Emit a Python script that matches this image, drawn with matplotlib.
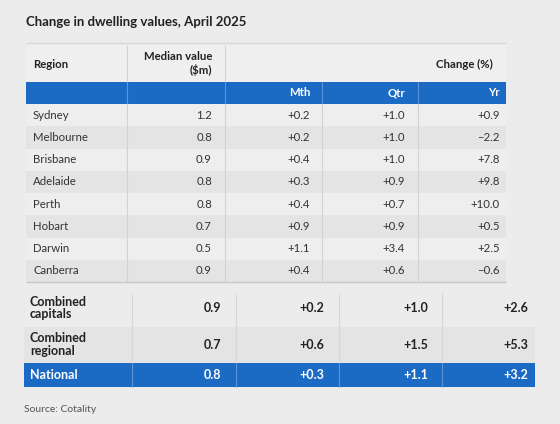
"""Table of dwelling value changes by capital city, April 2025."""

import matplotlib

matplotlib.use("Agg")
import matplotlib.pyplot as plt  # noqa: E402
from matplotlib.patches import Rectangle  # noqa: E402

TITLE = "Change in dwelling values, April 2025"
SOURCE = "Source: Cotality"

regions = ["Sydney", "Melbourne", "Brisbane", "Adelaide", "Perth", "Hobart", "Darwin", "Canberra"]
median_value = ["1.2", "0.8", "0.9", "0.8", "0.8", "0.7", "0.5", "0.9"]
change_mth = ["+0.2", "+0.2", "+0.4", "+0.3", "+0.4", "+0.9", "+1.1", "+0.4"]
change_qtr = ["+1.0", "+1.0", "+1.0", "+0.9", "+0.7", "+0.9", "+3.4", "+0.6"]
change_yr = ["+0.9", "\u22122.2", "+7.8", "+9.8", "+10.0", "+0.5", "+2.5", "\u22120.6"]

summary_regions = ["Combined\ncapitals", "Combined\nregional", "National"]
summary_median = ["0.9", "0.7", "0.8"]
summary_mth = ["+0.2", "+0.6", "+0.3"]
summary_qtr = ["+1.0", "+1.5", "+1.1"]
summary_yr = ["+2.6", "+5.3", "+3.2"]

sub_headers = ["Mth", "Qtr", "Yr"]

BG = "#ececec"
BLUE = "#1b6ac4"
BLUE_LINE = "#5d95d8"
ROW_LIGHT = "#eeeeee"
ROW_DARK = "#e4e4e4"
GRID = "#d2d2d2"
TEXT = "#222222"
FONT = ["Lato", "DejaVu Sans"]

plt.rcParams["font.family"] = FONT

fig = plt.figure(figsize=(5.6, 4.24), dpi=100, facecolor=BG)
ax = fig.add_axes([0, 0, 1, 1])
ax.set_xlim(0, 560)
ax.set_ylim(424, 0)
ax.axis("off")


def vline(x, y0, y1, color=GRID, lw=0.8):
    ax.plot([x, x], [y0, y1], color=color, lw=lw, solid_capstyle="butt")


def hline(y, x0, x1, color=GRID, lw=0.8):
    ax.plot([x0, x1], [y, y], color=color, lw=lw, solid_capstyle="butt")


ax.text(26, 22, TITLE, fontsize=9.5, fontweight="bold", color=TEXT, va="center", ha="left")

# top table geometry
t_left, t_right = 26, 506
col_edges = [26, 127, 225, 322, 418, 506]
head_top, head_bot = 45, 82
blue_bot = 104
row_h = 22.25
hline(43, t_left, t_right, color="#d8d8d8", lw=1.0)
ax.add_patch(Rectangle((t_left, head_top), t_right - t_left, head_bot - head_top,
                       facecolor="#efefef", edgecolor="none"))
for x in col_edges[1:3]:
    vline(x, head_top, head_bot)
ax.text(33, 64, "Region", fontsize=8.2, fontweight="bold", color=TEXT, va="center")
ax.text(212, 64, "Median value\n($m)", fontsize=8.2, fontweight="bold", color=TEXT,
        va="center", ha="right", linespacing=1.2)
ax.text(493, 64, "Change (%)", fontsize=8.2, fontweight="bold", color=TEXT,
        va="center", ha="right")

ax.add_patch(Rectangle((t_left, head_bot), t_right - t_left, blue_bot - head_bot,
                       facecolor=BLUE, edgecolor="none"))
for x in col_edges[1:-1]:
    vline(x, head_bot, blue_bot, color=BLUE_LINE)
sub_x = [310, 405, 500]
for x, lab in zip(sub_x, sub_headers):
    ax.text(x, (head_bot + blue_bot) / 2, lab, fontsize=8.2, fontweight="bold", color="white",
            va="center", ha="right")

value_x = [212, 310, 405, 500]
for i, name in enumerate(regions):
    y0 = blue_bot + i * row_h
    ax.add_patch(Rectangle((t_left, y0), t_right - t_left, row_h,
                           facecolor=ROW_LIGHT if i % 2 == 0 else ROW_DARK, edgecolor="none"))
    yc = y0 + row_h / 2
    ax.text(33, yc, name, fontsize=8.2, color="#333333", va="center")
    vals = [median_value[i], change_mth[i], change_qtr[i], change_yr[i]]
    for x, v in zip(value_x, vals):
        ax.text(x, yc, v, fontsize=8.2, color="#333333", va="center", ha="right")
t_bot = blue_bot + len(regions) * row_h
for x in col_edges[1:-1]:
    vline(x, blue_bot, t_bot)
hline(t_bot, t_left, t_right, color="#c8c8c8", lw=1.0)

# summary table
s_left, s_right = 24, 535
s_edges = [24, 132, 236, 339, 442, 535]
s_top = 290
s_heights = [36.5, 36.5, 24]
s_colors = [BG, ROW_DARK, BLUE]
s_value_x = [221, 324, 428, 528]
y0 = s_top
for i, name in enumerate(summary_regions):
    h = s_heights[i]
    ax.add_patch(Rectangle((s_left, y0), s_right - s_left, h, facecolor=s_colors[i],
                           edgecolor="none"))
    col = "white" if i == 2 else TEXT
    line_col = BLUE_LINE if i == 2 else "#d6d6d6"
    for x in s_edges[1:-1]:
        vline(x, y0 + (0 if i else 3), y0 + h, color=line_col)
    yc = y0 + h / 2
    ax.text(30, yc, name, fontsize=9, fontweight="bold", color=col, va="center",
            linespacing=1.05)
    vals = [summary_median[i], summary_mth[i], summary_qtr[i], summary_yr[i]]
    for x, v in zip(s_value_x, vals):
        ax.text(x, yc, v, fontsize=9, fontweight="bold", color=col, va="center", ha="right")
    y0 += h

ax.text(24, 410, SOURCE, fontsize=7.5, color="#555555", va="center")

fig.savefig("out.png", dpi=100, facecolor=BG)
